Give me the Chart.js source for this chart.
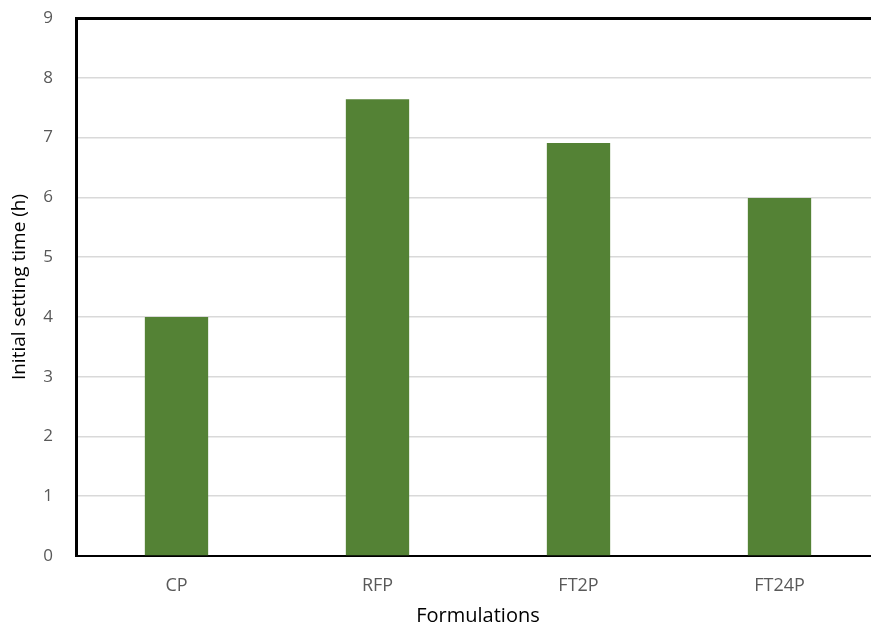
<!DOCTYPE html>
<html>
<head>
<meta charset="utf-8">
<script src="https://cdn.jsdelivr.net/npm/chart.js@4"></script>
<style>
  html, body { margin: 0; padding: 0; background: #fff; overflow: hidden; }
  #wrap { width: 871px; height: 625px; overflow: hidden; }
  #wrap div { width: 880px; height: 625px; }
</style>
</head>
<body>
<div id="wrap"><div><canvas id="myChart" width="880" height="625"></canvas></div></div>
<script>
// Chart data
const categories = ['CP', 'RFP', 'FT2P', 'FT24P'];
const settingTime = [4.0, 7.64, 6.91, 5.99];
const yTicks = [0, 1, 2, 3, 4, 5, 6, 7, 8, 9];

const textColor = '#595959';
const fontFamily = "'Open Sans', 'Noto Sans', sans-serif";

const data = {
  labels: categories,
  datasets: [
    {
      data: settingTime,
      backgroundColor: '#548235',
      borderWidth: 0,
      barPercentage: 0.315,
      categoryPercentage: 1,
    },
  ],
};

const config = {
  type: 'bar',
  data: data,
  options: {
    responsive: false,
    animation: false,
    layout: { padding: { top: 18, right: 0, left: 0, bottom: 0 } },
    plugins: {
      legend: { display: false },
      tooltip: { enabled: false },
    },
    scales: {
      x: {
        grid: { display: false, drawTicks: false },
        border: { color: '#000', width: 2 },
        ticks: {
          color: textColor,
          font: { family: fontFamily, size: 18 },
          padding: 19,
        },
        title: {
          display: true,
          text: 'Formulations',
          color: '#000',
          font: { family: fontFamily, size: 20 },
          padding: { top: 0, bottom: -3 },
        },
        afterFit: (scale) => {
          scale.height = 69;
          scale.paddingLeft = 0;
          scale.paddingRight = 0;
        },
      },
      y: {
        min: 0,
        max: 9,
        afterBuildTicks: (scale) => {
          scale.ticks = yTicks.map((v) => ({ value: v }));
        },
        grid: {
          drawTicks: false,
          color: (ctx) => (ctx.tick && ctx.tick.value === 9 ? '#000' : '#d9d9d9'),
          lineWidth: (ctx) => (ctx.tick && ctx.tick.value === 9 ? 3 : 1.5),
        },
        border: { color: '#000', width: 3 },
        ticks: {
          color: textColor,
          font: { family: fontFamily, size: 17 },
          padding: 23,
        },
        title: {
          display: true,
          text: 'Initial setting time (h)',
          color: '#000',
          font: { family: fontFamily, size: 19 },
          padding: { top: 8, bottom: 0 },
        },
        afterFit: (scale) => {
          scale.width = 76;
          scale.paddingTop = 0;
          scale.paddingBottom = 0;
        },
      },
    },
  },
};

const ctx = document.getElementById('myChart');
try {
  const chart = new Chart(ctx, config);
} catch (e) {
  console.log(e);
}
</script>
</body>
</html>
